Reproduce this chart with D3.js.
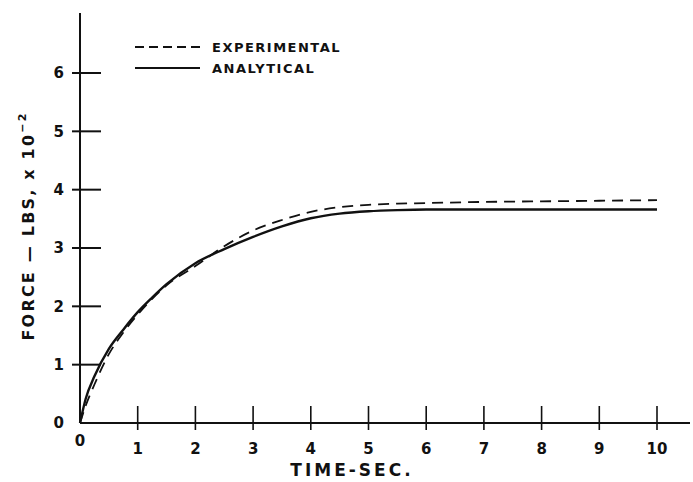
<!DOCTYPE html>
<html>
<head>
<meta charset="utf-8">
<script src="https://cdn.jsdelivr.net/npm/d3@7"></script>
<style>
  body { margin: 0; background: #fff; }
  svg text { font-family: "DejaVu Sans", sans-serif; font-weight: bold; fill: #111; }
</style>
</head>
<body>
<div id="chart"></div>
<script>
// values
const timeSec = [0, 0.1, 0.25, 0.5, 0.75, 1, 1.25, 1.5, 2, 2.5, 3, 3.5, 4, 4.5, 5, 5.5, 6, 7, 8, 9, 10];
const analytical = [0, 0.42, 0.8, 1.27, 1.6, 1.9, 2.15, 2.38, 2.74, 2.98, 3.19, 3.37, 3.51, 3.59, 3.63, 3.65, 3.66, 3.66, 3.66, 3.66, 3.66];
const experimental = [0, 0.3, 0.66, 1.18, 1.55, 1.86, 2.13, 2.36, 2.69, 3.03, 3.3, 3.48, 3.62, 3.7, 3.74, 3.76, 3.77, 3.79, 3.8, 3.81, 3.82];
const xTicks = [0, 1, 2, 3, 4, 5, 6, 7, 8, 9, 10];
const yTicks = [0, 1, 2, 3, 4, 5, 6];
const legendItems = [
  { label: "EXPERIMENTAL", dash: "9,5" },
  { label: "ANALYTICAL", dash: null }
];

function drawChart() {
  const svg = d3.select("#chart").append("svg")
    .attr("width", 693)
    .attr("height", 482);

  const x = d3.scaleLinear().domain([0, 10]).range([80, 657]);
  const y = d3.scaleLinear().domain([0, 6]).range([423, 73]);

  // axis lines
  svg.append("line")
    .attr("x1", x(0)).attr("x2", x(0))
    .attr("y1", 13).attr("y2", y(0))
    .attr("stroke", "#111").attr("stroke-width", 2);
  svg.append("line")
    .attr("x1", x(0)).attr("x2", 690)
    .attr("y1", y(0)).attr("y2", y(0))
    .attr("stroke", "#111").attr("stroke-width", 2);

  // y ticks cross the axis
  svg.selectAll(".ytick").data(yTicks.filter(d => d > 0)).enter()
    .append("line")
    .attr("x1", x(0) - 8).attr("x2", x(0) + 21)
    .attr("y1", d => y(d)).attr("y2", d => y(d))
    .attr("stroke", "#111").attr("stroke-width", 2);
  svg.selectAll(".ylab").data(yTicks).enter()
    .append("text")
    .attr("x", 64)
    .attr("y", d => y(d))
    .attr("dy", "0.36em")
    .attr("text-anchor", "end")
    .attr("font-size", 15)
    .text(d => d);

  svg.selectAll(".xtick").data(xTicks.filter(d => d > 0)).enter()
    .append("line")
    .attr("x1", d => x(d)).attr("x2", d => x(d))
    .attr("y1", y(0) - 17).attr("y2", y(0) + 7)
    .attr("stroke", "#111").attr("stroke-width", 1.6);
  svg.selectAll(".xlab").data(xTicks).enter()
    .append("text")
    .attr("x", d => x(d))
    .attr("y", d => d === 0 ? 446 : 454)
    .attr("text-anchor", "middle")
    .attr("font-size", 15)
    .text(d => d);

  // axis titles
  svg.append("text")
    .attr("x", 352).attr("y", 476)
    .attr("text-anchor", "middle")
    .attr("font-size", 17)
    .attr("letter-spacing", 3)
    .text("TIME-SEC.");

  const yt = svg.append("text")
    .attr("transform", "translate(34,226) rotate(-90)")
    .attr("text-anchor", "middle")
    .attr("font-size", 16)
    .attr("letter-spacing", 2.2);
  yt.append("tspan").text("FORCE \u2014 LBS, x 10");
  yt.append("tspan").attr("dy", -8).attr("font-size", 11).text("\u22122");

  // curves
  const line = d3.line()
    .x((d, i) => x(timeSec[i]))
    .y(d => y(d))
    .curve(d3.curveMonotoneX);

  svg.append("path")
    .attr("d", line(experimental))
    .attr("fill", "none")
    .attr("stroke", "#111")
    .attr("stroke-width", 1.8)
    .attr("stroke-dasharray", "11,7");

  svg.append("path")
    .attr("d", line(analytical))
    .attr("fill", "none")
    .attr("stroke", "#111")
    .attr("stroke-width", 2.4);

  // legend
  const leg = svg.selectAll(".leg").data(legendItems).enter()
    .append("g")
    .attr("transform", (d, i) => `translate(135,${47 + i * 21})`);
  leg.append("line")
    .attr("x1", 0).attr("x2", 65)
    .attr("stroke", "#111").attr("stroke-width", 1.8)
    .attr("stroke-dasharray", d => d.dash);
  leg.append("text")
    .attr("x", 77).attr("dy", "0.36em")
    .attr("font-size", 13)
    .attr("letter-spacing", 1.5)
    .text(d => d.label);
}

document.addEventListener("DOMContentLoaded", drawChart);
</script>
</body>
</html>
